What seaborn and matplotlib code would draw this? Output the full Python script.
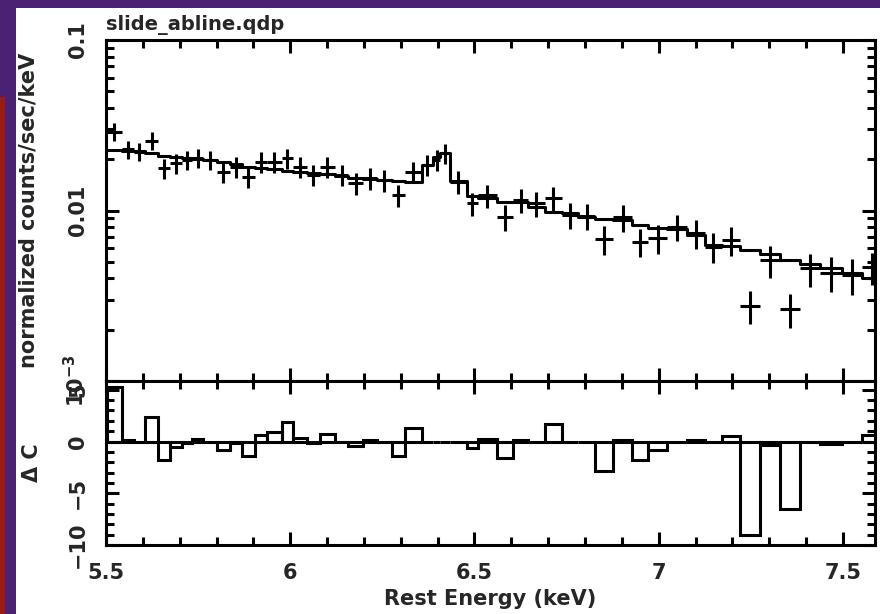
import numpy as np
import matplotlib
matplotlib.use("Agg")
import matplotlib.pyplot as plt
import seaborn as sns
from matplotlib.patches import Rectangle
from matplotlib.ticker import FixedLocator, FixedFormatter, MultipleLocator

# bin edges (keV)
edges = [5.503, 5.543, 5.575, 5.606, 5.642, 5.674, 5.705, 5.733, 5.764, 5.800,
         5.837, 5.868, 5.904, 5.936, 5.977, 6.008, 6.045, 6.081, 6.121, 6.158,
         6.198, 6.235, 6.275, 6.311, 6.357, 6.388, 6.406, 6.434, 6.479, 6.510,
         6.560, 6.605, 6.645, 6.691, 6.737, 6.782, 6.827, 6.877, 6.927, 6.972,
         7.022, 7.076, 7.126, 7.171, 7.221, 7.275, 7.329, 7.383, 7.438, 7.497,
         7.551, 7.606]

# data points (normalized counts/sec/keV)
counts = [0.0290, 0.0229, 0.0221, 0.0257, 0.0177, 0.0189, 0.0198, 0.0204, 0.0198, 0.0169,
          0.0181, 0.0158, 0.0193, 0.0193, 0.0202, 0.0181, 0.0162, 0.0181, 0.0162, 0.01445,
          0.01545, 0.0151, 0.01233, 0.0169, 0.0185, 0.0198, 0.0216, 0.01477, 0.0110, 0.0123,
          0.0092, 0.01153, 0.0110, 0.0118, 0.0094, 0.0093, 0.00678, 0.0091, 0.00656, 0.00687,
          0.0080, 0.00735, 0.00614, 0.0067, 0.00277, 0.00513, 0.00264, 0.00458, 0.00432, 0.00419,
          0.00465]

counts_err = [0.0035, 0.0028, 0.0027, 0.0031, 0.0024, 0.0025, 0.0026, 0.0027, 0.0026, 0.0024,
              0.0025, 0.0023, 0.0026, 0.0026, 0.0027, 0.0025, 0.0023, 0.0025, 0.0023, 0.0021,
              0.0022, 0.0022, 0.0018, 0.0024, 0.0026, 0.0027, 0.0029, 0.0022, 0.0017, 0.0019,
              0.0016, 0.0019, 0.0018, 0.0019, 0.0016, 0.0016, 0.0013, 0.0016, 0.0012, 0.0013,
              0.0014, 0.0014, 0.0012, 0.0013, 0.0006, 0.0011, 0.0006, 0.0010, 0.0010, 0.0010,
              0.0010]

# folded model
model = [0.0226, 0.0224, 0.0222, 0.0217, 0.0210, 0.0207, 0.0204, 0.0201, 0.0198, 0.0192,
         0.0187, 0.0181, 0.0177, 0.0174, 0.0171, 0.0168, 0.0165, 0.0163, 0.0160, 0.0156,
         0.0153, 0.0150, 0.0148, 0.0146, 0.0185, 0.0207, 0.0218, 0.0148, 0.0121, 0.0118,
         0.01127, 0.0112, 0.01052, 0.00975, 0.0097, 0.0092, 0.00888, 0.0088, 0.00822, 0.00785,
         0.0078, 0.00717, 0.00628, 0.0062, 0.00587, 0.00556, 0.00513, 0.00483, 0.00458, 0.00428,
         0.0040]

# delta C residuals
delta_c = [5.3, 0.1, 0.0, 2.4, -1.8, -0.5, -0.1, 0.2, 0.0, -0.8,
           -0.1, -1.4, 0.6, 0.9, 1.9, 0.3, -0.1, 0.7, 0.0, -0.4,
           0.1, 0.0, -1.4, 1.3, 0.0, 0.0, 0.0, 0.0, -0.6, 0.25,
           -1.6, 0.15, 0.0, 1.7, 0.0, 0.0, -2.8, 0.1, -1.8, -0.8,
           0.0, 0.1, 0.0, 0.55, -9.0, -0.3, -6.5, 0.0, -0.2, 0.0,
           0.6]

edges = np.array(edges)
centers = (edges[:-1] + edges[1:]) / 2
half_w = np.diff(edges) / 2

sns.set_theme(style="ticks")
plt.rcParams["font.family"] = ["DejaVu Sans"]
plt.rcParams["font.weight"] = "bold"
plt.rcParams["mathtext.default"] = "bf"

purple = "#4b2174"
fig = plt.figure(figsize=(8.8, 6.14), dpi=100)
fig.patch.set_facecolor(purple)
fig.add_artist(Rectangle((0, 0), 5 / 880, 1 - 97 / 614, transform=fig.transFigure,
                         facecolor="#9c1a0e", edgecolor="none", zorder=0))
fig.add_artist(Rectangle((16 / 880, 0), 1, 1 - 8 / 614, transform=fig.transFigure,
                         facecolor="white", edgecolor="none", zorder=0))

ax1 = fig.add_axes([106 / 880, 1 - 381 / 614, 769 / 880, 341 / 614])
ax2 = fig.add_axes([106 / 880, 1 - 545 / 614, 769 / 880, 164 / 614], sharex=ax1)

lw = 2.2
# data crosses
ax1.errorbar(centers, counts, xerr=half_w, yerr=counts_err, fmt="none",
             ecolor="black", elinewidth=lw, capsize=0)
# model as a step line
sns.lineplot(x=edges, y=np.append(model, model[-1]), drawstyle="steps-post",
             estimator=None, sort=False, color="black", lw=lw, ax=ax1)

ax1.set_yscale("log")
ax1.set_ylim(1e-3, 0.1)
ax1.set_xlim(5.5, 7.587)
ax1.yaxis.set_major_locator(FixedLocator([1e-3, 1e-2, 1e-1]))
ax1.yaxis.set_major_formatter(FixedFormatter([r"$10^{-3}$", "0.01", "0.1"]))

# residuals as outlined bars from zero
ax2.bar(edges[:-1], delta_c, width=np.diff(edges), align="edge", fill=False,
        edgecolor="black", linewidth=lw)
ax2.set_ylim(-10, 5.85)
ax2.yaxis.set_major_locator(FixedLocator([-10, -5, 0, 5]))
ax2.yaxis.set_major_formatter(FixedFormatter(["\u221210", "\u22125", "0", "5"]))
ax2.yaxis.set_minor_locator(MultipleLocator(1))
ax2.xaxis.set_major_locator(FixedLocator([5.5, 6, 6.5, 7, 7.5]))
ax2.xaxis.set_major_formatter(FixedFormatter(["5.5", "6", "6.5", "7", "7.5"]))
ax2.xaxis.set_minor_locator(MultipleLocator(0.1))

for ax in (ax1, ax2):
    ax.set_facecolor("white")
    for s in ax.spines.values():
        s.set_linewidth(lw)
        s.set_color("black")
    ax.tick_params(which="both", direction="in", top=True, right=True,
                   width=lw, color="black", labelsize=15, pad=13)
    ax.tick_params(which="major", length=9.5)
    ax.tick_params(which="minor", length=5.5)
    for lab in ax.get_yticklabels():
        lab.set_rotation(90)
        lab.set_va("center")
    for lab in ax.get_xticklabels() + ax.get_yticklabels():
        lab.set_fontweight("bold")

ax1.tick_params(axis="x", labelbottom=False)
ax1.set_xlabel("")

ax1.set_ylabel("normalized counts/sec/keV", fontsize=15, fontweight="bold")
ax1.yaxis.set_label_coords(-0.088, 0.5)
ax2.set_ylabel("\u0394 C", fontsize=15, fontweight="bold")
ax2.yaxis.set_label_coords(-0.083, 0.5)
ax2.set_xlabel("Rest Energy (keV)", fontsize=15, fontweight="bold")
ax2.xaxis.set_label_coords(0.5, -0.27)

ax1.set_title("slide_abline.qdp", loc="left", fontsize=14, fontweight="bold", pad=7)

fig.savefig("out.png", dpi=100, facecolor=fig.get_facecolor())
